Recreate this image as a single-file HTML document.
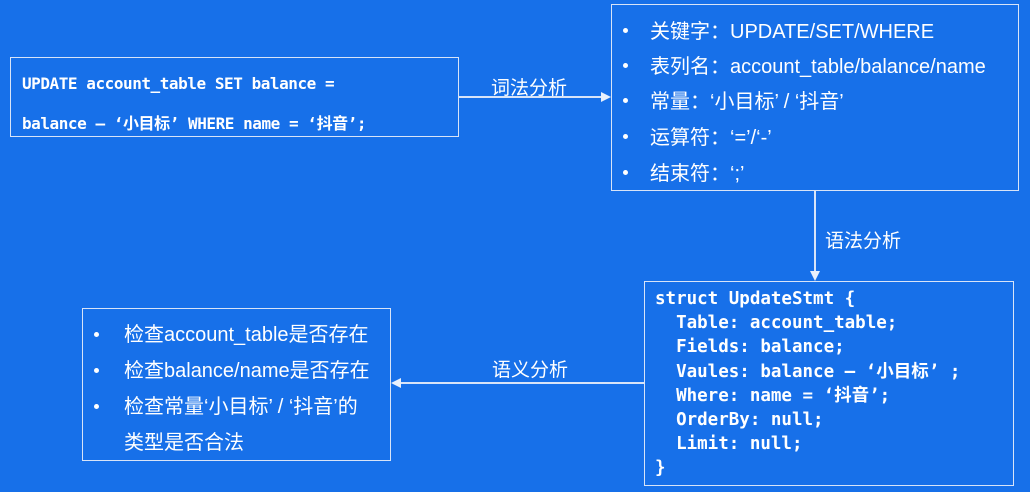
<!DOCTYPE html>
<html><head><meta charset="utf-8"><style>
body{margin:0;width:1030px;height:492px;background:#1770e9;position:relative;overflow:hidden;color:#fff;font-family:"Liberation Sans","Noto Sans CJK SC",sans-serif}
.box{position:absolute;border:1.5px solid #d8e4f8;box-sizing:border-box}
.mono{font-family:"DejaVu Sans Mono","Noto Sans CJK SC",monospace;font-weight:bold}
.t{position:absolute;white-space:nowrap}
.lbl{position:absolute;font-size:19px;white-space:nowrap}
.b{position:absolute;font-size:20px;white-space:nowrap}
.d{position:absolute;width:5px;height:5px;border-radius:50%;background:#fff}
</style></head><body>
<div class="box" style="left:10px;top:57px;width:449px;height:80px"></div>
<div class="t mono" style="left:22px;top:74px;font-size:16px;letter-spacing:-0.45px">UPDATE account_table SET balance =</div>
<div class="t mono" style="left:22px;top:110px;font-size:16px;letter-spacing:-0.45px">balance – ‘小目标’ WHERE name = ‘抖音’;</div>

<div class="box" style="left:611px;top:4px;width:408px;height:187px"></div>
<div class="d" style="left:623px;top:28px"></div><div class="b" style="left:650px;top:15px">关键字：UPDATE/SET/WHERE</div>
<div class="d" style="left:623px;top:63px"></div><div class="b" style="left:650px;top:50px">表列名：account_table/balance/name</div>
<div class="d" style="left:623px;top:98px"></div><div class="b" style="left:650px;top:85px">常量：‘小目标’ / ‘抖音’</div>
<div class="d" style="left:623px;top:134px"></div><div class="b" style="left:650px;top:121px">运算符：‘=’/‘-’</div>
<div class="d" style="left:623px;top:170px"></div><div class="b" style="left:650px;top:157px">结束符：‘;’</div>

<div class="box" style="left:644px;top:281px;width:370px;height:205px"></div>
<div class="mono" style="position:absolute;left:655px;top:287px;font-size:17.5px;line-height:24.2px;white-space:pre">struct UpdateStmt {
  Table: account_table;
  Fields: balance;
  Vaules: balance – ‘小目标’ ;
  Where: name = ‘抖音’;
  OrderBy: null;
  Limit: null;
}</div>

<div class="box" style="left:82px;top:308px;width:309px;height:153px"></div>
<div class="d" style="left:94px;top:332px"></div><div class="b" style="left:124px;top:318px">检查account_table是否存在</div>
<div class="d" style="left:94px;top:368px"></div><div class="b" style="left:124px;top:354px">检查balance/name是否存在</div>
<div class="d" style="left:94px;top:404px"></div><div class="b" style="left:124px;top:390px">检查常量‘小目标’ / ‘抖音’的</div>
<div class="b" style="left:124px;top:426px">类型是否合法</div>

<svg width="1030" height="492" style="position:absolute;left:0;top:0">
<g stroke="#d8e4f8" stroke-width="2" fill="#e8f0fc">
<line x1="459" y1="97" x2="602" y2="97"/><polygon points="611,97 601,92 601,102" stroke="none"/>
<line x1="815" y1="191" x2="815" y2="273"/><polygon points="815,281 810,271 820,271" stroke="none"/>
<line x1="644" y1="383" x2="399" y2="383"/><polygon points="391,383 401,378 401,388" stroke="none"/>
</g></svg>
<div class="lbl" style="left:491px;top:73px">词法分析</div>
<div class="lbl" style="left:825px;top:226px">语法分析</div>
<div class="lbl" style="left:492px;top:355px">语义分析</div>
</body></html>
